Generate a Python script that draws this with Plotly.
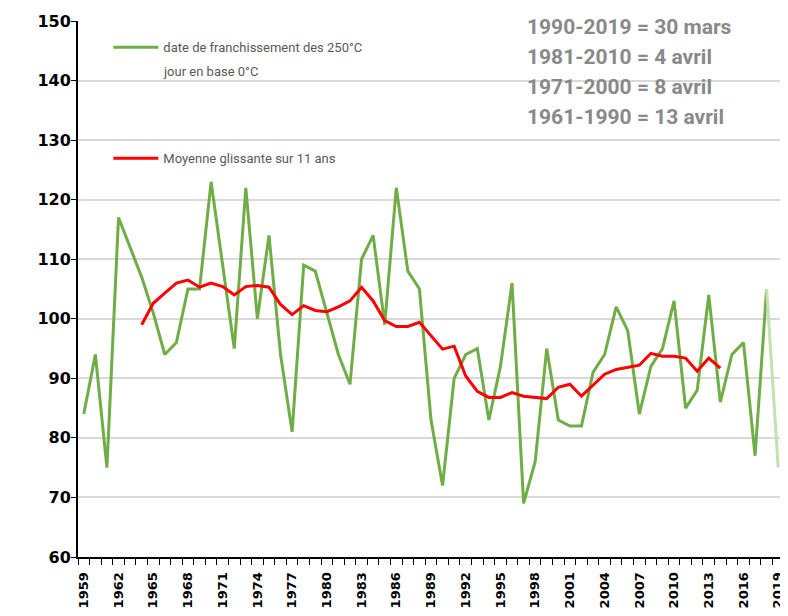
import plotly.graph_objects as go

years = list(range(1959, 2020))
dates = [84, 94, 75, 117, 112, 107, 101, 94, 96, 105, 105, 123, 109, 95, 122, 100,
         114, 94, 81, 109, 108, 101, 94, 89, 110, 114, 99, 122, 108, 105, 83, 72,
         90, 94, 95, 83, 92, 106, 69, 76, 95, 83, 82, 82, 91, 94, 102, 98, 84, 92,
         95, 103, 85, 88, 104, 86, 94, 96, 77, 105, 75]
ma_years = list(range(1964, 2015))
ma_vals = [99.0, 102.6, 104.3, 106.0, 106.5, 105.3, 106.0, 105.4, 104.0, 105.4, 105.6,
           105.3, 102.4, 100.7, 102.2, 101.4, 101.2, 102.0, 103.0, 105.3, 103.0, 99.7,
           98.7, 98.7, 99.4, 97.2, 94.9, 95.4, 90.4, 87.8, 86.8, 86.8, 87.6, 87.0, 86.8,
           86.6, 88.5, 89.0, 87.0, 88.8, 90.7, 91.5, 91.8, 92.2, 94.2, 93.7, 93.7, 93.4,
           91.2, 93.4, 91.7]
label_years = list(range(1959, 2020, 3))
normals = ["1990-2019 = 30 mars", "1981-2010 = 4 avril",
           "1971-2000 = 8 avril", "1961-1990 = 13 avril"]
y_ticks = list(range(60, 151, 10))
green_name = "date de franchissement des 250°C"
green_name2 = "jour en base 0°C"
red_name = "Moyenne glissante sur 11 ans"

fig = go.Figure()
fig.add_trace(go.Scatter(x=years[:-1], y=dates[:-1], mode="lines",
                         line=dict(color="#70AD47", width=3),
                         name=green_name, legend="legend"))
fig.add_trace(go.Scatter(x=years[-2:], y=dates[-2:], mode="lines",
                         line=dict(color="#C5E0B4", width=3), showlegend=False))
fig.add_trace(go.Scatter(x=ma_years, y=ma_vals, mode="lines",
                         line=dict(color="#FF0000", width=3),
                         name=red_name, legend="legend2"))

legfont = dict(family="Roboto, sans-serif", size=13, color="#595959")
fig.add_annotation(x=0.117, y=0.905, xref="paper", yref="paper", xanchor="left",
                   yanchor="middle", text=green_name2, showarrow=False, font=legfont)
for i, t in enumerate(normals):
    fig.add_annotation(x=0.633, y=1.0 - (6 + 30 * i) / 536, xref="paper", yref="paper",
                       xanchor="left", yanchor="middle", text="<b>" + t + "</b>",
                       showarrow=False,
                       font=dict(family="Roboto, sans-serif", size=21, color="#898989"))

fig.update_layout(
    width=780, height=608,
    margin=dict(l=70, r=4, t=13, b=59),
    plot_bgcolor="white", paper_bgcolor="white",
    legend=dict(x=0.043, y=0.979, xanchor="left", yanchor="top", font=legfont,
                bgcolor="rgba(0,0,0,0)", itemwidth=45),
    legend2=dict(x=0.043, y=0.772, xanchor="left", yanchor="top", font=legfont,
                 bgcolor="rgba(0,0,0,0)", itemwidth=45),
    xaxis=dict(range=[1958.5, 2019.5], tickmode="array", tickvals=label_years,
               ticktext=[str(y) for y in label_years], tickangle=-90, ticks="",
               ticklabelstandoff=8,
               showgrid=False, showline=True, linecolor="black", linewidth=2,
               zeroline=False,
               tickfont=dict(family="DejaVu Sans", size=13, color="black", weight="bold"),
               minor=dict(tickvals=[y - 0.5 for y in years] + [years[-1] + 0.5],
                          ticks="outside", ticklen=6, tickcolor="black", showgrid=False)),
    yaxis=dict(range=[60, 150], tickmode="array", tickvals=y_ticks,
               ticks="outside", ticklen=5, tickcolor="black", ticklabelstandoff=-3,
               showgrid=False, showline=True, linecolor="black", linewidth=2,
               zeroline=False,
               tickfont=dict(family="DejaVu Sans", size=16, color="black", weight="bold"),
               minor=dict(tickvals=y_ticks[1:-1], showgrid=True, gridcolor="#D9D9D9",
                          gridwidth=1.5, ticks="")),
)
fig.write_html("out.html")
